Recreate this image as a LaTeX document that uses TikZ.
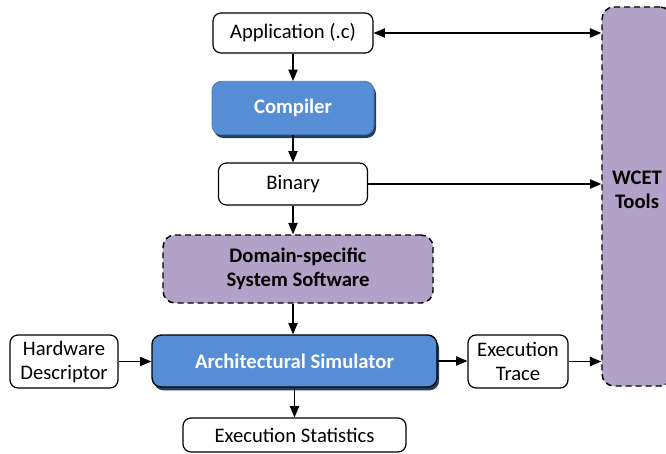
\documentclass[tikz,border=0pt]{standalone}
\usepackage{fontspec}
\setmainfont{Carlito}
\usetikzlibrary{arrows.meta,shadows}
\definecolor{simblue}{HTML}{558ED5}
\definecolor{shadeblue}{HTML}{243F60}
\definecolor{toolpurple}{HTML}{B3A2C7}
\tikzset{
  every node/.style={font=\fontsize{15.5pt}{18pt}\selectfont, align=center, inner sep=0pt},
  plainbox/.style={draw=black, line width=0.9pt, rounded corners=6pt, fill=white},
  bluebox/.style={fill=simblue, rounded corners=7pt, text=white, font=\fontsize{15.5pt}{18pt}\selectfont\bfseries,
    drop shadow={shadow xshift=1.5pt, shadow yshift=-2.5pt, fill=shadeblue, opacity=1}},
  purplebox/.style={draw=black, line width=1.1pt, dash pattern=on 4.5pt off 3pt, fill=toolpurple,
    rounded corners=9pt, font=\fontsize{15.5pt}{18pt}\selectfont\bfseries},
  flow/.style={line width=0.8pt, -{Triangle[length=8.5pt,width=7pt]}},
  flowboth/.style={line width=0.8pt, {Triangle[length=8.5pt,width=7pt]}-{Triangle[length=8.5pt,width=7pt]}}
}
\begin{document}
\begin{tikzpicture}[x=0.75pt,y=-0.75pt]
\useasboundingbox (0,0) rectangle (666,453);
\clip (0,0) rectangle (666,453);

% processing chain
\node[plainbox, minimum width=120pt, minimum height=30pt] (app) at (293,33) {Application (.c)};
\node[bluebox, draw=simblue!85!black, line width=0.6pt, minimum width=121.5pt, minimum height=40pt] (comp) at (293,108) {Compiler};
\node[plainbox, minimum width=111.75pt, minimum height=31.5pt] (bin) at (293,184) {Binary};
\node[purplebox, minimum width=202.5pt, minimum height=51pt] (dom) at (298,269) {Domain-specific\\System Software};
\node[bluebox, draw=black, line width=1pt, minimum width=213.75pt, minimum height=39pt] (sim) at (294.5,361) {Architectural Simulator};
\node[plainbox, minimum width=81pt, minimum height=39.75pt] (hw) at (64,361.5) {Hardware\\Descriptor};
\node[plainbox, minimum width=75pt, minimum height=39.75pt] (trace) at (518,361.5) {Execution\\Trace};
\node[plainbox, minimum width=167.25pt, minimum height=25.5pt] (stats) at (294.5,435) {Execution Statistics};

% analysis tools column
\node[purplebox, minimum width=52.5pt, minimum height=284.25pt] (wcet) at (637,196.5) {};
\node (wcetlabel) at (637,190) {\bfseries WCET\\\bfseries Tools};

% connectors
\draw[flow] (app.south) -- (comp.north);
\draw[flow] (comp.south) -- (bin.north);
\draw[flow] (bin.south) -- (bin.south |- dom.north);
\draw[flow] (bin.south |- dom.south) -- (bin.south |- sim.north);
\draw[flow] (sim.south) -- (stats.north);
\draw[flow] (hw.east) -- (hw.east -| sim.west);
\draw[flow] (sim.east) -- (sim.east -| trace.west);
\draw[flow] (trace.east) -- (trace.east -| wcet.west);
\draw[flow] (bin.east) -- (bin.east -| wcet.west);
\draw[flowboth] (app.east) -- (app.east -| wcet.west);
\end{tikzpicture}
\end{document}
